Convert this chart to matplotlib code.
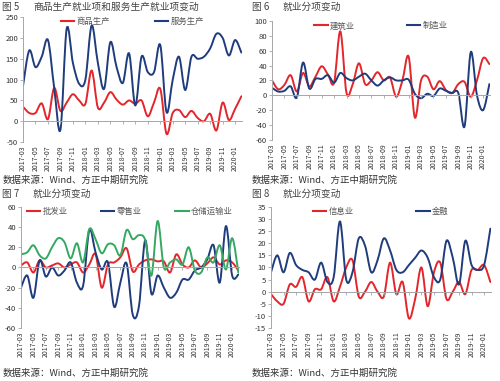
import numpy as np
import pandas as pd
import matplotlib
matplotlib.use("Agg")
from matplotlib import pyplot as plt
from matplotlib.path import Path
from matplotlib.patches import PathPatch
from matplotlib.lines import Line2D

plt.rcParams["font.family"] = ["Noto Sans CJK SC", "DejaVu Sans"]
plt.rcParams["axes.unicode_minus"] = False

months = pd.period_range("2017-03", "2020-02", freq="M").strftime("%Y-%m").tolist()

# fig 5
goods = [35, 20, 20, 43, 5, 80, 25, 45, 65, 50,
         42, 122, 33, 45, 70, 52, 40, 50, 42, 50, 12, 45,
         78, -30, 20, 27, 10, 25, 8, 0, 18, -22, 45, 3,
         30, 60]
services = [85, 170, 130, 155, 195, 80, -20, 222, 140, 90,
            100, 230, 140, 78, 190, 130, 92, 163, 38, 155, 118, 118,
            183, 22, 100, 155, 75, 155, 150, 155, 175, 210, 200, 158,
            195, 165]

# fig 6
construction = [20, 8, 14, 27, 5, 30, 12, 25, 39, 28,
                17, 86, 3, 15, 43, 15, 20, 31, 20, 24, -2, 20,
                52, -30, 20, 25, 8, 19, 7, 3, 15, 18, -2, 20,
                50, 42]
manufacturing = [10, 5, 6, 12, -3, 44, 9, 22, 22, 27,
                 17, 30, 23, 20, 25, 29, 20, 13, 20, 24, 20, 20,
                 21, 2, -4, 2, -1, 9, 6, 3, 3, -42, 58, 0,
                 -20, 15]

# fig 7
wholesale = [2, 5, -5, 7, 0, 2, 4, 0, 3, 5,
             -5, 3, 13, -20, 3, 5, 10, 19, -4, 3, 7, 8,
             6, 6, -5, 13, 3, 0, 7, 0, 4, 10, 3, 7,
             5, -3]
retail = [-20, -8, -30, 7, -9, 0, -8, -3, 5, -15,
          -18, 37, 15, -2, 5, -39, -15, 4, -47, -38, 27, -26,
          -8, -20, -30, -25, -12, -12, -3, 0, 8, 22, -15, 41,
          -8, -7]
warehouse = [13, 15, 22, 12, 9, 20, 29, 25, 9, 24,
             5, 38, 28, 14, 23, 22, 12, 37, 28, 32, 27, -8,
             46, 0, 5, 8, 3, 20, -3, -5, 10, 5, 22, -2,
             29, -5]

# fig 8
info = [-1, -4, -5, 3, 2, 6, -4, 1, 1, 6,
        -4, 2, 10, 13, -2, 0, 4, 0, -2, 12, -1, 4,
        -11, -3, 10, -6, 8, 12, -3, 0, 4, -1, 9, 9,
        11, 4]
finance = [8, 15, 8, 16, 11, 9, 8, 5, 12, 4,
           6, 29, 5, 8, 22, 19, 8, 13, 22, 17, 9, 8,
           11, 14, 17, 14, 6, 5, 21, 14, 3, 21, 11, 9,
           11, 26]

RED = "#e3262b"
BLUE = "#1f3c7c"
GREEN = "#35a862"
GRAY = "#a6a6a6"
SOURCE = "数据来源：Wind、方正中期研究院"


def smooth_path(y):
    # Excel style smoothed line: bezier through every point
    pts = np.column_stack([np.arange(len(y), dtype=float), np.asarray(y, dtype=float)])
    n = len(pts)
    verts = [pts[0]]
    codes = [Path.MOVETO]
    for i in range(n - 1):
        p0 = pts[i - 1] if i > 0 else pts[i]
        p1 = pts[i]
        p2 = pts[i + 1]
        p3 = pts[i + 2] if i + 2 < n else p2
        verts += [p1 + (p2 - p0) / 6, p2 - (p3 - p1) / 6, p2]
        codes += [Path.CURVE4] * 3
    return Path(verts, codes)


def draw_panel(fig, rect, series, ylim, step, colspacing):
    ax = fig.add_axes(rect)
    for name, vals, color in series:
        ax.add_patch(PathPatch(smooth_path(vals), fill=False, edgecolor=color,
                               lw=1.4, joinstyle="round", capstyle="round"))
    handles = [Line2D([], [], color=c, lw=1.5) for _, _, c in series]
    ax.legend(handles, [s[0] for s in series], loc="upper center",
              bbox_to_anchor=(0.5, 1.06), ncol=len(series), frameon=False,
              fontsize=6, handlelength=1.6, handletextpad=0.3,
              columnspacing=colspacing, labelcolor="#555555")

    x = np.arange(len(months))
    ax.set_xlim(0, len(months) - 0.9)
    ax.set_ylim(*ylim)
    ax.set_yticks(np.arange(ylim[0], ylim[1] + step / 2, step))
    ax.tick_params(axis="y", labelsize=5.5, length=2, width=0.6, color=GRAY,
                   pad=1.5, labelcolor="#333333")

    for s in ["top", "right"]:
        ax.spines[s].set_visible(False)
    ax.spines["left"].set_color(GRAY)
    ax.spines["left"].set_linewidth(0.7)
    ax.spines["bottom"].set_position(("data", 0))
    ax.spines["bottom"].set_color(GRAY)
    ax.spines["bottom"].set_linewidth(0.7)

    ax.set_xticks(x[::2])
    ax.tick_params(axis="x", labelbottom=False, length=2, width=0.6, color=GRAY)

    sec = ax.secondary_xaxis("bottom")
    sec.set_xticks(x[::2], labels=months[::2])
    sec.tick_params(length=0, labelsize=5, labelrotation=90, pad=2.5,
                    labelcolor="#333333")
    sec.spines["bottom"].set_visible(False)
    return ax


fig = plt.figure(figsize=(5.0, 3.81), dpi=100)

draw_panel(fig, [0.046, 0.627, 0.438, 0.328],
           [("商品生产", goods, RED), ("服务生产", services, BLUE)],
           (-50, 250), 50, 5.4)
draw_panel(fig, [0.544, 0.633, 0.436, 0.312],
           [("建筑业", construction, RED), ("制造业", manufacturing, BLUE)],
           (-60, 100), 20, 6.2)
draw_panel(fig, [0.042, 0.139, 0.436, 0.318],
           [("批发业", wholesale, RED), ("零售业", retail, BLUE), ("仓储运输业", warehouse, GREEN)],
           (-60, 60), 20, 4.0)
draw_panel(fig, [0.542, 0.139, 0.44, 0.318],
           [("信息业", info, RED), ("金融", finance, BLUE)],
           (-15, 35), 5, 7.5)

titles = [("图 5", "商品生产就业项和服务生产就业项变动", 0.004, 0.982),
          ("图 6", "就业分项变动", 0.504, 0.982),
          ("图 7", "就业分项变动", 0.004, 0.49),
          ("图 8", "就业分项变动", 0.504, 0.49)]
for num, t, tx, ty in titles:
    fig.text(tx, ty, num, fontsize=7, color="#444444", va="center", ha="left")
    fig.text(tx + 0.062, ty, t, fontsize=7, color="#444444", va="center", ha="left")

for sx, sy in [(0.006, 0.528), (0.504, 0.528), (0.006, 0.022), (0.504, 0.022)]:
    fig.text(sx, sy, SOURCE, fontsize=6.8, color="#333333", va="center",
             ha="left", style="italic")

fig.savefig("out.png", dpi=100)
